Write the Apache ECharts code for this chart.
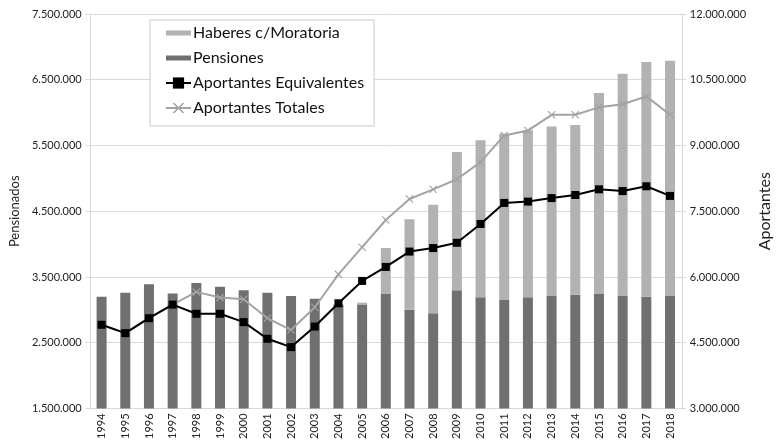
<!DOCTYPE html>
<html>
<head>
<meta charset="utf-8">
<script src="https://cdn.jsdelivr.net/npm/echarts@6/dist/echarts.min.js"></script>
<style>
  html, body { margin: 0; padding: 0; background: #fff; }
  #chart { width: 781px; height: 442px; }
</style>
</head>
<body>
<div id="chart"></div>
<script>
// years on the x axis
const years = ['1994', '1995', '1996', '1997', '1998', '1999', '2000', '2001', '2002', '2003', '2004', '2005',
    '2006', '2007', '2008', '2009', '2010', '2011', '2012', '2013', '2014', '2015', '2016', '2017', '2018'];

// left axis (Pensionados)
const pensiones = [3200000, 3260000, 3390000, 3250000, 3410000, 3350000, 3300000, 3260000, 3210000, 3170000,
    3080000, 3080000, 3250000, 3000000, 2950000, 3300000, 3190000, 3150000, 3190000, 3220000, 3230000,
    3240000, 3220000, 3200000, 3210000];
const haberesMoratoria = [0, 0, 0, 0, 0, 0, 0, 0, 0, 0, 0, 30000, 690000, 1380000, 1650000, 2100000,
    2390000, 2530000, 2540000, 2570000, 2580000, 3060000, 3370000, 3570000, 3580000];

// right axis (Aportantes)
const aportantesEquiv = [4910000, 4720000, 5060000, 5370000, 5160000, 5160000, 4970000, 4590000, 4400000,
    4870000, 5400000, 5910000, 6230000, 6580000, 6660000, 6780000, 7210000, 7690000, 7720000, 7800000,
    7870000, 8000000, 7960000, 8070000, 7850000];
const aportantesTotales = [4910000, 4720000, 5060000, 5370000, 5660000, 5530000, 5490000, 5060000, 4790000,
    5310000, 6060000, 6680000, 7300000, 7780000, 8000000, 8230000, 8620000, 9230000, 9340000, 9700000,
    9700000, 9870000, 9940000, 10120000, 9700000];

const fontFamily = 'Lato, "Noto Sans", sans-serif';
const dots = v => String(v).replace(/\B(?=(\d{3})+(?!\d))/g, '.');
const crossSymbol = 'path://M0,1L1,0L5,4L9,0L10,1L6,5L10,9L9,10L5,6L1,10L0,9L4,5Z';

const chart = echarts.init(document.getElementById('chart'));

const option = {
    animation: false,
    textStyle: { fontFamily: fontFamily },
    grid: { left: 87, right: 81, top: 14, bottom: 30, containLabel: false },
    legend: {
        orient: 'vertical',
        left: 150,
        top: 20,
        backgroundColor: '#fff',
        borderColor: '#c8c8c8',
        borderWidth: 1,
        borderRadius: 0,
        padding: [5, 10, 10, 15],
        itemGap: 9,
        itemWidth: 25,
        itemHeight: 14,
        textStyle: { fontSize: 16, color: '#111', fontFamily: fontFamily, padding: [0, 0, 0, -3] },
        data: [
            { name: 'Haberes c/Moratoria', icon: 'path://M0,0H25V5H0Z' },
            { name: 'Pensiones', icon: 'path://M0,0H25V5H0Z' },
            { name: 'Aportantes Equivalentes' },
            { name: 'Aportantes Totales' }
        ]
    },
    xAxis: {
        type: 'category',
        data: years,
        axisLine: { lineStyle: { color: '#d9d9d9' } },
        axisTick: { show: false },
        axisLabel: { rotate: 90, fontSize: 11, color: '#222', margin: 5, interval: 0 }
    },
    yAxis: [
        {
            type: 'value',
            name: 'Pensionados',
            nameLocation: 'middle',
            nameRotate: 90,
            nameGap: 68,
            nameTextStyle: { fontSize: 13, color: '#222' },
            min: 1500000,
            max: 7500000,
            interval: 1000000,
            axisLine: { show: true, lineStyle: { color: '#d9d9d9' } },
            axisTick: { show: true, length: 4, lineStyle: { color: '#d9d9d9' } },
            axisLabel: { fontSize: 11, color: '#222', margin: 8, formatter: dots },
            splitLine: { lineStyle: { color: '#d9d9d9' } }
        },
        {
            type: 'value',
            name: 'Aportantes',
            nameLocation: 'middle',
            nameRotate: 90,
            nameGap: 62,
            nameTextStyle: { fontSize: 16, color: '#222' },
            min: 3000000,
            max: 12000000,
            interval: 1500000,
            axisLine: { show: true, lineStyle: { color: '#d9d9d9' } },
            axisTick: { show: true, length: 4, lineStyle: { color: '#d9d9d9' } },
            axisLabel: { fontSize: 11, color: '#222', margin: 8, formatter: dots },
            splitLine: { show: false }
        }
    ],
    series: [
        {
            name: 'Pensiones',
            type: 'bar',
            stack: 'pens',
            yAxisIndex: 0,
            barWidth: 10,
            itemStyle: { color: '#707070' },
            data: pensiones
        },
        {
            name: 'Haberes c/Moratoria',
            type: 'bar',
            stack: 'pens',
            yAxisIndex: 0,
            barWidth: 10,
            itemStyle: { color: '#b2b2b2' },
            data: haberesMoratoria
        },
        {
            name: 'Aportantes Totales',
            type: 'line',
            yAxisIndex: 1,
            symbol: crossSymbol,
            symbolSize: 8,
            lineStyle: { color: '#a3a3a3', width: 2 },
            itemStyle: { color: '#a3a3a3' },
            data: aportantesTotales
        },
        {
            name: 'Aportantes Equivalentes',
            type: 'line',
            yAxisIndex: 1,
            symbol: 'rect',
            symbolSize: 8,
            lineStyle: { color: '#000', width: 2 },
            itemStyle: { color: '#000' },
            data: aportantesEquiv
        }
    ]
};

chart.setOption(option);
</script>
</body>
</html>
